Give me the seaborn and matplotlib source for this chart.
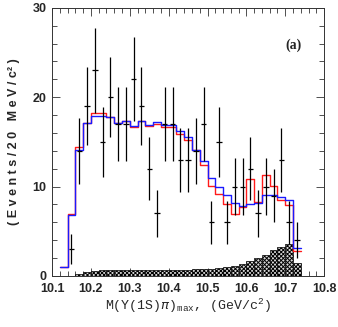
import numpy as np
import matplotlib
matplotlib.use("Agg")
import matplotlib.pyplot as plt
import seaborn as sns

# ── Data ─────────────────────────────────────────────────────────────────────
bin_edges = [round(10.12 + 0.02 * i, 3) for i in range(32)]
bin_centers = [round(10.13 + 0.02 * i, 3) for i in range(31)]

blue_fit = [1.0, 6.8, 14.1, 17.1, 17.9, 17.9, 17.8, 17.1, 17.3, 16.8,
            17.3, 16.9, 17.2, 16.9, 16.9, 16.2, 15.5, 14.1, 12.9, 11.0,
            10.0, 9.1, 8.2, 7.8, 8.0, 8.2, 9.1, 9.1, 8.8, 8.5, 3.1]
red_fit = [1.0, 6.9, 14.4, 17.1, 18.2, 18.2, 17.8, 17.1, 17.3, 16.7,
           17.3, 16.8, 17.0, 16.7, 16.7, 15.9, 15.2, 14.1, 12.4, 10.1,
           9.2, 8.0, 6.9, 7.7, 10.8, 8.3, 11.3, 10.1, 8.5, 7.9, 2.8]
background = [0.0, 0.0, 0.2, 0.45, 0.6, 0.65, 0.7, 0.7, 0.7, 0.7,
              0.7, 0.7, 0.7, 0.7, 0.7, 0.72, 0.72, 0.75, 0.78, 0.82,
              0.93, 1.0, 1.1, 1.3, 1.7, 2.05, 2.4, 2.9, 3.25, 3.6, 1.4]

data_x = [10.15, 10.17, 10.19, 10.21, 10.23, 10.25, 10.27, 10.29, 10.31, 10.33,
          10.35, 10.37, 10.39, 10.41, 10.43, 10.45, 10.47, 10.49, 10.51, 10.53,
          10.55, 10.57, 10.59, 10.61, 10.63, 10.65, 10.67, 10.69, 10.71, 10.73]
data_y = [3, 14, 19, 23, 15, 20, 17, 17, 22, 19,
          12, 7, 17, 17, 13, 13, 14, 17, 6, 15,
          6, 10, 10, 12, 7, 10, 9, 13, 6, 4]
data_err = [1.7, 3.7, 4.4, 4.8, 3.9, 4.5, 4.1, 4.1, 4.7, 4.4,
            3.5, 2.6, 4.1, 4.1, 3.6, 3.6, 3.7, 4.1, 2.4, 3.9,
            2.4, 3.2, 3.2, 3.5, 2.6, 3.2, 3.0, 3.6, 2.4, 2.0]

x_ticks = [10.1, 10.2, 10.3, 10.4, 10.5, 10.6, 10.7, 10.8]
y_ticks = [0, 10, 20, 30]

# ── Style ────────────────────────────────────────────────────────────────────
sns.set_style("ticks")
plt.rcParams["font.family"] = ["Liberation Sans Narrow", "Liberation Sans", "DejaVu Sans"]
plt.rcParams["mathtext.fontset"] = "custom"
plt.rcParams["mathtext.rm"] = "Liberation Mono"
plt.rcParams["hatch.linewidth"] = 0.7

fig = plt.figure(figsize=(3.38, 3.27), dpi=100)
ax = fig.add_axes([0.154, 0.156, 0.805, 0.82])

# background (hatched)
sns.histplot(x=bin_centers, weights=background, bins=bin_edges, element="bars",
             fill=True, color="#d8d8d8", edgecolor="black", linewidth=0.5,
             hatch="xxxxxxxx", alpha=1.0, ax=ax)

# fit curves
sns.histplot(x=bin_centers, weights=red_fit, bins=bin_edges, element="step",
             fill=False, color="#ff1a1a", linewidth=1.0, ax=ax)
sns.histplot(x=bin_centers, weights=blue_fit, bins=bin_edges, element="step",
             fill=False, color="#1a1aff", linewidth=1.0, ax=ax)

# data points
ax.errorbar(data_x, data_y, yerr=data_err, xerr=0.007, fmt="none",
            ecolor="black", elinewidth=0.9, capsize=0, zorder=5)

ax.set_xlim(10.1, 10.8)
ax.set_ylim(0, 30)
ax.set_xticks(x_ticks)
ax.set_xticks(np.arange(10.1, 10.801, 0.02), minor=True)
ax.set_yticks(y_ticks)
ax.set_yticks(np.arange(0, 30.1, 2), minor=True)
ax.tick_params(which="both", direction="in", top=True, right=True,
               width=0.6, color="#333333")
ax.tick_params(which="major", length=6, labelsize=9)
ax.tick_params(axis="x", which="major", pad=5)
ax.tick_params(axis="y", which="major", pad=4)
ax.tick_params(which="minor", length=3.5)
for lab in ax.get_xticklabels() + ax.get_yticklabels():
    lab.set_fontweight("bold")
for s in ax.spines.values():
    s.set_linewidth(0.7)
    s.set_color("#333333")

ax.set_xlabel(r"M($\Upsilon$(1S)$\pi$)$_{\mathrm{max}}$, (GeV/c$^{2}$)",
              family="Liberation Mono", fontsize=9.5, labelpad=1)
ax.set_ylabel("( E v e n t s / 2 0   M e V / c² )", family="Liberation Sans",
              fontweight="bold", fontsize=9, labelpad=9)
ax.text(10.72, 25.8, "(a)", family="Liberation Serif", fontweight="bold",
        fontsize=10, ha="center", va="center")

fig.savefig("out.png", dpi=100)
